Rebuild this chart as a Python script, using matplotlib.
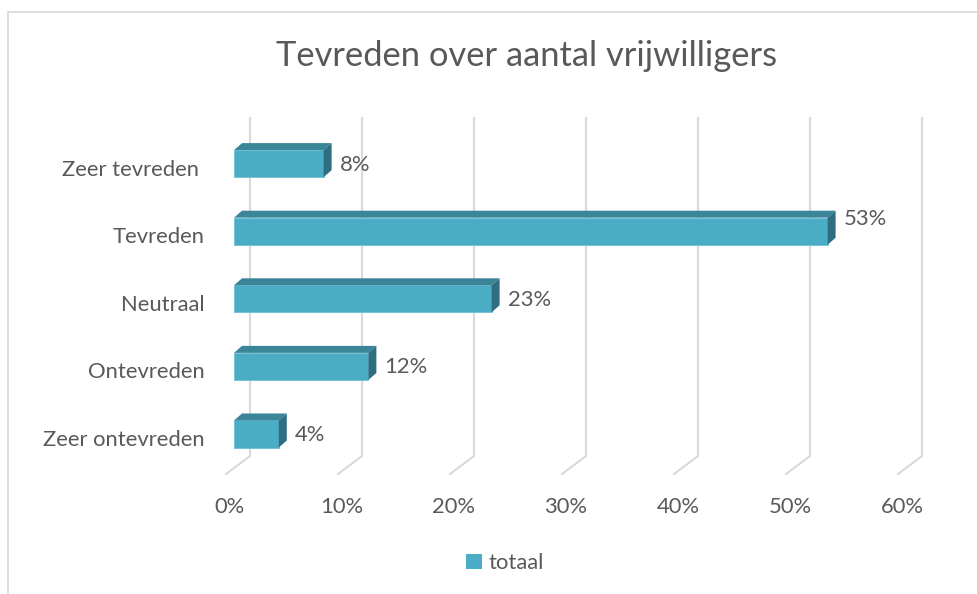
"""
Tevreden over aantal vrijwilligers - 3D-achtige staafgrafiek (Excel stijl)
"""

import matplotlib
matplotlib.use('Agg')
import matplotlib.pyplot as plt
from matplotlib.patches import Polygon, Rectangle
from matplotlib.lines import Line2D
from matplotlib.transforms import IdentityTransform, ScaledTranslation

plt.rcParams['font.family'] = ['Lato', 'DejaVu Sans']

# data
categorieen = ['Zeer ontevreden', 'Ontevreden', 'Neutraal', 'Tevreden', 'Zeer tevreden ']
percentages = [4, 12, 23, 53, 8]
x_ticks = [0, 10, 20, 30, 40, 50, 60]
titel = 'Tevreden over aantal vrijwilligers'
reeks = 'totaal'

# kleuren
TEXT = '#595959'
GRID = '#d9d9d9'
FRONT = '#4bacc6'
TOP = '#3b8599'
SIDE = '#2f6e80'
FS = 15.8

W, H = 978, 594
fig = plt.figure(figsize=(W / 100, H / 100), dpi=100)

# kaderrand van de grafiek (loopt rechts en onder buiten beeld)
fig.patches.append(Rectangle((8 / W, -0.1), 1.2, 1 - 12 / H + 0.1, transform=fig.transFigure,
                             fill=False, edgecolor='#d9d9d9', linewidth=1.2))

# plotgebied (voorvlak van de staven)
ax = fig.add_axes([234 / W, 120 / H, 672 / W, 356 / H])
ax.set_xlim(0, 60)
ax.set_ylim(-0.592, 4.675)
ax.axis('off')

fig.text(527 / W, 1 - 56 / H, titel, ha='center', va='center', fontsize=24.8, color=TEXT)

ident = IdentityTransform()

# 3D-offsets in pixels
FLOOR_DX, FLOOR_DY = 16, 18   # achterwand t.o.v. voorvlak
FRONT_DX = -8                 # voorkant vloer t.o.v. staaf
BAR_DX, BAR_DY = 8, 7         # diepte van de staaf

# rasterlijnen op de achterwand + vloer
for v in x_ticks:
    x0, yb = ax.transData.transform((v, ax.get_ylim()[0]))
    _, yt = ax.transData.transform((v, ax.get_ylim()[1]))
    xs = [x0 + FLOOR_DX, x0 + FLOOR_DX, x0 + FRONT_DX]
    ys = [yt, yb + FLOOR_DY, yb]
    fig.add_artist(Line2D(xs, ys, transform=ident, color=GRID, linewidth=1.5, zorder=0))
    ax.text(v, ax.get_ylim()[0], f'{v}%', ha='center', va='center', fontsize=FS, color=TEXT,
            transform=ax.transData + ScaledTranslation(-0.04, -0.33, fig.dpi_scale_trans))

# staven
hoogte = 0.4
y_pos = list(range(len(categorieen)))
ax.barh(y_pos, percentages, height=hoogte, color=FRONT, edgecolor='#6cc0d6', linewidth=0.6, zorder=3)

for y, v in zip(y_pos, percentages):
    (xl, yl), (xr, yh) = ax.transData.transform([(0, y - hoogte / 2), (v, y + hoogte / 2)])
    top = [(xl, yh), (xr, yh), (xr + BAR_DX, yh + BAR_DY), (xl + BAR_DX, yh + BAR_DY)]
    side = [(xr, yl), (xr, yh), (xr + BAR_DX, yh + BAR_DY), (xr + BAR_DX, yl + BAR_DY)]
    fig.add_artist(Polygon(top, closed=True, transform=ident, facecolor=TOP, edgecolor='none', zorder=4))
    fig.add_artist(Polygon(side, closed=True, transform=ident, facecolor=SIDE, edgecolor='none', zorder=4))
    # label bij de langste staaf staat iets hoger (zoals in Excel)
    dy = 0.12 if v == max(percentages) else -0.01
    ax.text(v, y, f'{v}%', ha='left', va='center', fontsize=FS, color=TEXT,
            transform=ax.transData + ScaledTranslation(0.16, dy, fig.dpi_scale_trans))

# categorie labels
for y, c in zip(y_pos, categorieen):
    ax.text(0, y, c, ha='right', va='center', fontsize=FS, color=TEXT,
            transform=ax.transData + ScaledTranslation(-0.29, -0.06, fig.dpi_scale_trans))

# legenda
fig.legend(handles=[Rectangle((0, 0), 1, 1, facecolor=FRONT)], labels=[reeks],
           loc='center', bbox_to_anchor=(505 / W, 31 / H), frameon=False, fontsize=FS,
           handlelength=0.7, handleheight=0.7, handletextpad=0.3, labelcolor=TEXT)

plt.savefig('out.png', dpi=100)
